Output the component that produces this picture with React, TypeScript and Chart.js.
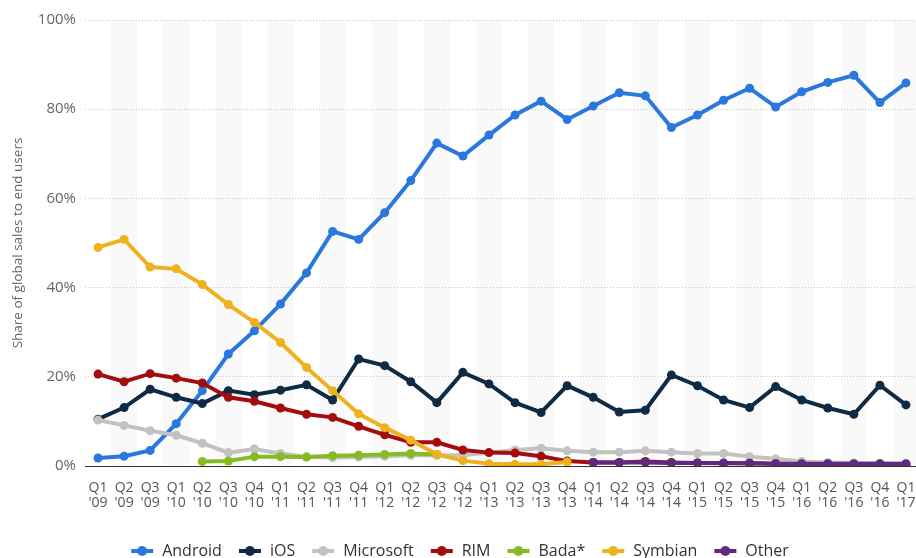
import React, { useEffect, useRef } from "react";
import { Chart, registerables } from "chart.js";

Chart.register(...registerables);

const quarters = [
  "Q1", "Q2", "Q3",
  "Q1", "Q2", "Q3", "Q4",
  "Q1", "Q2", "Q3", "Q4",
  "Q1", "Q2", "Q3", "Q4",
  "Q1", "Q2", "Q3", "Q4",
  "Q1", "Q2", "Q3", "Q4",
  "Q1", "Q2", "Q3", "Q4",
  "Q1", "Q2", "Q3", "Q4",
  "Q1",
];
const years = [
  "'09", "'09", "'09",
  "'10", "'10", "'10", "'10",
  "'11", "'11", "'11", "'11",
  "'12", "'12", "'12", "'12",
  "'13", "'13", "'13", "'13",
  "'14", "'14", "'14", "'14",
  "'15", "'15", "'15", "'15",
  "'16", "'16", "'16", "'16",
  "'17",
];

const android = [1.8, 2.2, 3.5, 9.5, 16.9, 25.1, 30.3, 36.3, 43.3, 52.6, 50.8, 56.8, 64.0, 72.4, 69.5, 74.2, 78.7, 81.8, 77.7, 80.7, 83.7, 83.0, 75.9, 78.7, 82.0, 84.7, 80.5, 83.9, 86.0, 87.6, 81.5, 85.9];
const ios = [10.5, 13.1, 17.2, 15.4, 14.0, 16.9, 16.0, 17.0, 18.2, 14.8, 24.0, 22.5, 18.9, 14.2, 21.0, 18.4, 14.2, 12.0, 18.0, 15.4, 12.1, 12.5, 20.4, 18.0, 14.8, 13.1, 17.8, 14.8, 13.0, 11.6, 18.1, 13.7];
const microsoft = [10.3, 9.1, 7.9, 6.9, 5.1, 3.0, 3.8, 2.8, 2.1, 1.9, 2.0, 2.2, 2.4, 2.4, 2.4, 3.0, 3.6, 4.0, 3.4, 3.1, 3.1, 3.4, 3.1, 2.8, 2.8, 2.1, 1.6, 1.0, 0.8, 0.7, 0.6, 0.5];
const rim = [20.6, 18.9, 20.7, 19.7, 18.6, 15.4, 14.5, 13.0, 11.6, 10.9, 8.9, 7.0, 5.3, 5.3, 3.6, 3.0, 2.9, 2.2, 1.1, 0.8, 0.8, 1.0, 0.8, 0.7, 0.6, 0.6, 0.5, 0.4, 0.4, 0.3, 0.3, 0.3];
const bada = [null, null, null, null, 1.0, 1.1, 2.1, 2.1, 2.0, 2.3, 2.4, 2.6, 2.8, 2.6, null, null, null, null, null, null, null, null, null, null, null, null, null, null, null, null, null, null];
const symbian = [49.0, 50.8, 44.6, 44.2, 40.7, 36.2, 32.2, 27.7, 22.1, 16.9, 11.7, 8.6, 5.8, 2.6, 1.2, 0.5, 0.4, 0.4, 0.9, null, null, null, null, null, null, null, null, null, null, null, null, null];
const other = [null, null, null, null, null, null, null, null, null, null, null, null, null, null, null, null, null, null, null, 0.8, 0.8, 0.8, 0.7, 0.7, 0.7, 0.6, 0.5, 0.5, 0.5, 0.5, 0.5, 0.5];

const seriesNames = ["Android", "iOS", "Microsoft", "RIM", "Bada*", "Symbian", "Other"];
const seriesColors = ["#2a78de", "#0f2a43", "#c2c2c2", "#a30d0d", "#85bb23", "#eeb21f", "#5d2a80"];
const yTicks = [0, 20, 40, 60, 80, 100];
const yTitle = "Share of global sales to end users";

const FONT = "'Open Sans', sans-serif";

function makeIcon(color: string): HTMLCanvasElement {
  const c = document.createElement("canvas");
  c.width = 24;
  c.height = 10;
  const ctx = c.getContext("2d")!;
  ctx.strokeStyle = color;
  ctx.lineWidth = 4;
  ctx.beginPath();
  ctx.moveTo(1, 5);
  ctx.lineTo(23, 5);
  ctx.stroke();
  ctx.fillStyle = color;
  ctx.beginPath();
  ctx.arc(12, 5, 5, 0, Math.PI * 2);
  ctx.fill();
  return c;
}

const bandsPlugin = {
  id: "bands",
  beforeDraw(chart: any) {
    const x = chart.scales.x;
    const area = chart.chartArea;
    if (!x || !area) return;
    const ctx = chart.ctx;
    const n = chart.data.labels.length;
    const half = (x.getPixelForValue(1) - x.getPixelForValue(0)) / 2;
    ctx.save();
    ctx.fillStyle = "#f9f9f9";
    for (let i = 1; i < n; i += 2) {
      const c = x.getPixelForValue(i);
      ctx.fillRect(c - half, area.top, half * 2, area.bottom - area.top);
    }
    ctx.restore();
  },
};

export default function App() {
  const ref = useRef<HTMLCanvasElement>(null);

  useEffect(() => {
    if (!ref.current) return;
    const values = [android, ios, microsoft, rim, bada, symbian, other];
    const icons = seriesColors.map(makeIcon);
    const labels = quarters.map((q, i) => [q, years[i]]);

    const chart = new Chart(ref.current, {
      type: "line",
      data: {
        labels,
        datasets: values.map((d, i) => ({
          label: seriesNames[i],
          data: d,
          borderColor: seriesColors[i],
          backgroundColor: seriesColors[i],
          pointBackgroundColor: seriesColors[i],
          pointBorderWidth: 0,
          borderWidth: 4,
          pointRadius: 4.5,
          tension: 0,
          spanGaps: false,
          order: values.length - i,
        })),
      },
      options: {
        responsive: false,
        animation: false,
        events: [],
        layout: { padding: { top: 20, right: 11, left: 0, bottom: 0 } },
        plugins: {
          tooltip: { enabled: false },
          legend: {
            position: "bottom",
            labels: {
              usePointStyle: true,
              pointStyleWidth: 24,
              padding: 16,
              color: "#333",
              font: { family: FONT, size: 16 },
              generateLabels: (ch: any) =>
                ch.data.datasets.map((ds: any, i: number) => ({
                  text: ds.label,
                  fillStyle: seriesColors[i],
                  strokeStyle: seriesColors[i],
                  lineWidth: 0,
                  hidden: false,
                  datasetIndex: i,
                  pointStyle: icons[i],
                  fontColor: "#333",
                })),
            },
          },
        },
        scales: {
          x: {
            type: "category",
            offset: true,
            grid: { display: false },
            border: { display: true, color: "#333", width: 1 },
            ticks: {
              autoSkip: false,
              maxRotation: 0,
              minRotation: 0,
              padding: 6,
              color: "#555",
              font: { family: FONT, size: 14, lineHeight: 1.1 },
            },
            afterFit: (s: any) => {
              s.height = 61;
            },
          },
          y: {
            min: 0,
            max: 100,
            afterBuildTicks: (s: any) => {
              s.ticks = yTicks.map((v) => ({ value: v }));
            },
            ticks: {
              callback: (v: any) => v + "%",
              padding: 9,
              color: "#666",
              font: { family: FONT, size: 15 },
            },
            grid: { color: "#c4c4c4", drawTicks: false, lineWidth: 1 },
            border: { display: false, dash: [1, 2] },
            title: {
              display: true,
              text: yTitle,
              color: "#666",
              font: { family: FONT, size: 13.5 },
              padding: { top: 10, bottom: 0 },
            },
            afterFit: (s: any) => {
              s.width = 85;
            },
          },
        },
      },
      plugins: [bandsPlugin],
    });

    return () => chart.destroy();
  }, []);

  return (
    <div
      style={{
        position: "fixed",
        left: 0,
        top: 0,
        width: 916,
        height: 558,
        overflow: "hidden",
        background: "#fff",
      }}
    >
      <canvas
        ref={ref}
        width={930}
        height={569}
        style={{ display: "block", width: 930, height: 569 }}
      />
    </div>
  );
}
